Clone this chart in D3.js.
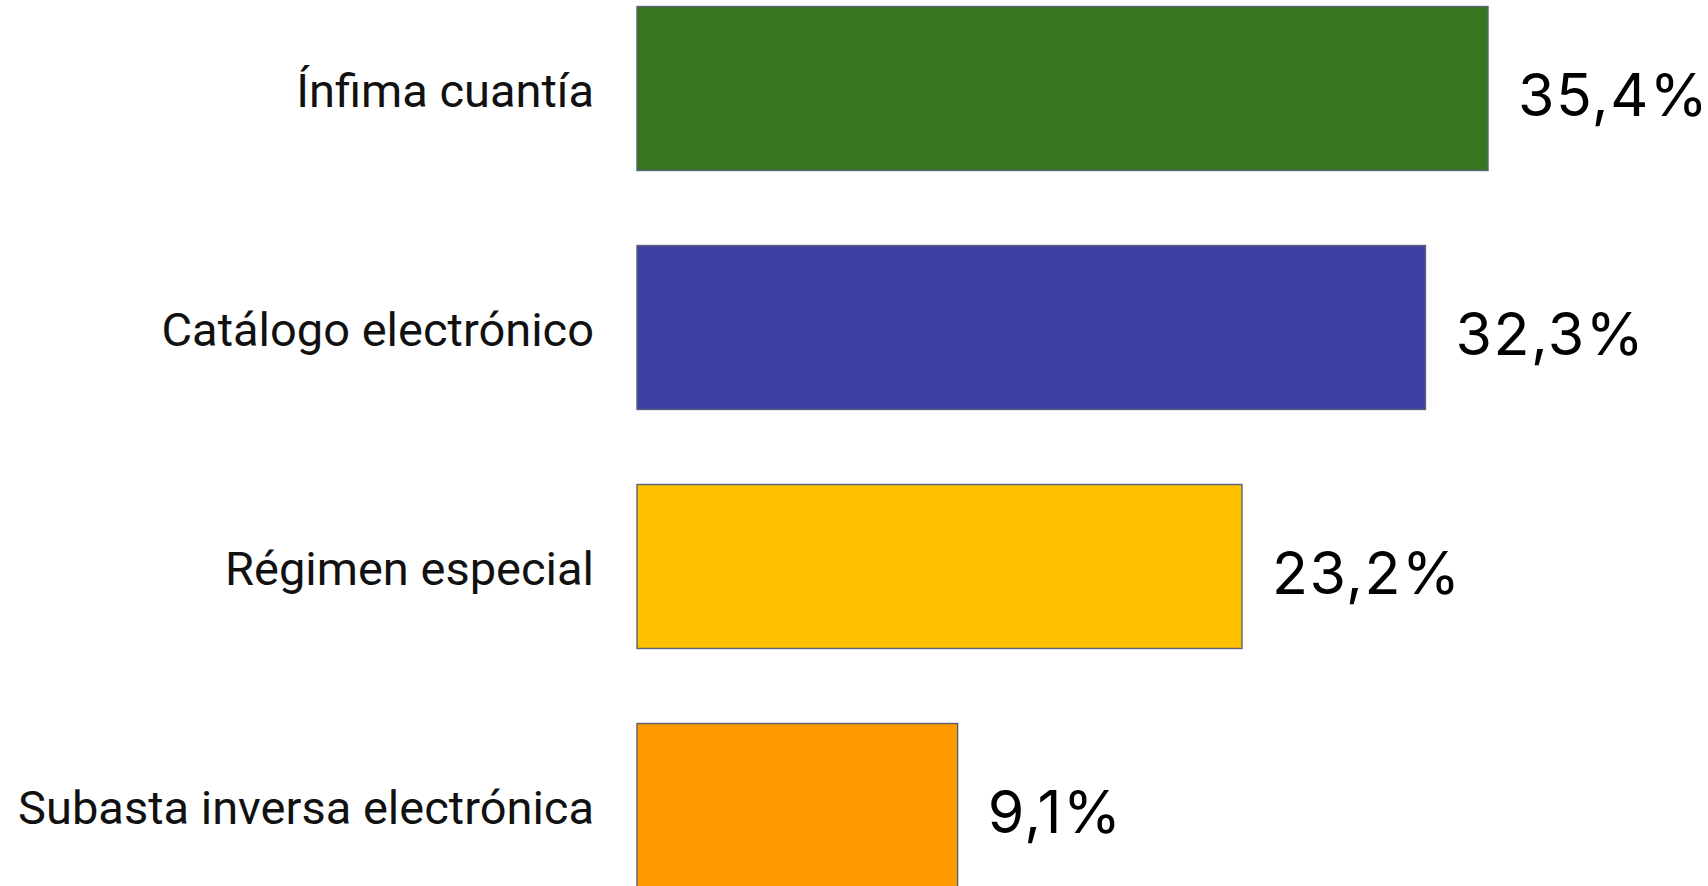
<!DOCTYPE html>
<html>
<head>
<meta charset="utf-8">
<script src="https://cdn.jsdelivr.net/npm/d3@7"></script>
<style>
  html, body { margin: 0; padding: 0; background: #fff; overflow: hidden; }
  svg { display: block; }
</style>
</head>
<body>
<div id="chart"></div>
<script>
// categories and values
const categories = ['Ínfima cuantía', 'Catálogo electrónico', 'Régimen especial', 'Subasta inversa electrónica'];
const values = [35.4, 32.3, 23.2, 9.1];
const valueLabels = ['35,4%', '32,3%', '23,2%', '9,1%'];
const colors = ['#38761d', '#3e41a3', '#ffc000', '#fe9a00'];

const w = 1708;
const h = 886;
const barLeft = 637;

const svg = d3.select('#chart')
  .append('svg')
  .attr('width', w)
  .attr('height', h);

// bars do not start at zero in the original, so the domain starts below it
const xScale = d3.scaleLinear()
  .domain([-6.8, 35.4])
  .range([barLeft, 1488]);

const yScale = d3.scaleBand()
  .domain(categories)
  .range([-31, 925])
  .paddingInner(0.314)
  .paddingOuter(0.157);

const data = categories.map((c, i) => ({ cat: c, value: values[i], label: valueLabels[i], color: colors[i] }));

// bars
svg.selectAll('rect.bar')
  .data(data)
  .enter()
  .append('rect')
  .attr('class', 'bar')
  .attr('x', xScale(-6.8))
  .attr('y', d => yScale(d.cat))
  .attr('width', d => xScale(d.value) - xScale(-6.8))
  .attr('height', yScale.bandwidth())
  .attr('fill', d => d.color)
  .attr('stroke', '#58627a')
  .attr('stroke-width', 1.4);

// category labels on the left
svg.selectAll('text.cat')
  .data(data)
  .enter()
  .append('text')
  .attr('class', 'cat')
  .attr('x', barLeft - 43)
  .attr('y', d => yScale(d.cat) + yScale.bandwidth() / 2 + 18)
  .attr('text-anchor', 'end')
  .style('font-family', 'Roboto, sans-serif')
  .style('font-size', '47px')
  .attr('fill', '#111')
  .text(d => d.cat);

// value labels after each bar
svg.selectAll('text.val')
  .data(data)
  .enter()
  .append('text')
  .attr('class', 'val')
  .attr('x', d => xScale(d.value) + 30)
  .attr('y', d => yScale(d.cat) + yScale.bandwidth() / 2 + 27)
  .style('font-family', 'Inter, Roboto, sans-serif')
  .style('font-size', '59px')
  .style('letter-spacing', '1.5px')
  .attr('fill', '#000')
  .text(d => d.label);
</script>
</body>
</html>
